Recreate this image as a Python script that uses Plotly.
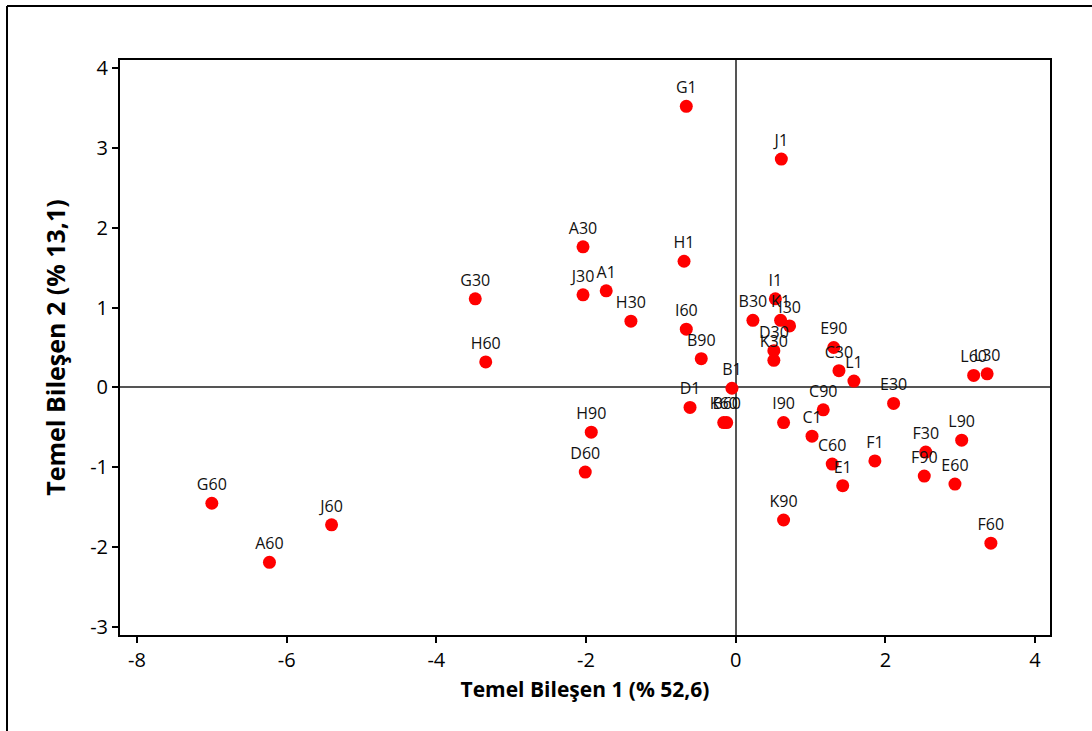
import plotly.graph_objects as go

# Sample labels and principal-component scores
labels = ["G1", "J1", "A30", "H1", "J30", "A1", "G30", "H30", "H60", "I60",
          "B90", "I1", "B30", "K1", "I30", "D30", "K30", "E90", "C30", "L1",
          "B1", "D1", "K60", "B60", "I90", "C90", "C1", "C60", "E1", "F1",
          "K90", "E30", "L60", "L30", "L90", "F30", "F90", "E60", "F60",
          "H90", "D60", "G60", "J60", "A60"]
pc1 = [-0.66, 0.61, -2.04, -0.69, -2.04, -1.73, -3.48, -1.40, -3.34, -0.66,
       -0.46, 0.53, 0.23, 0.60, 0.72, 0.51, 0.51, 1.31, 1.38, 1.58,
       -0.05, -0.61, -0.16, -0.12, 0.64, 1.17, 1.02, 1.29, 1.43, 1.86,
       0.64, 2.11, 3.18, 3.36, 3.02, 2.54, 2.52, 2.93, 3.41,
       -1.93, -2.01, -7.00, -5.40, -6.23]
pc2 = [3.52, 2.86, 1.76, 1.58, 1.16, 1.21, 1.11, 0.83, 0.32, 0.73,
       0.36, 1.11, 0.84, 0.84, 0.77, 0.46, 0.34, 0.50, 0.21, 0.08,
       -0.01, -0.25, -0.44, -0.44, -0.44, -0.28, -0.61, -0.96, -1.23, -0.92,
       -1.66, -0.20, 0.15, 0.17, -0.66, -0.81, -1.11, -1.21, -1.95,
       -0.56, -1.06, -1.45, -1.72, -2.19]

x_ticks = [-8, -6, -4, -2, 0, 2, 4]
y_ticks = [-3, -2, -1, 0, 1, 2, 3, 4]
x_ticktext = [str(v) for v in x_ticks]
y_ticktext = [str(v) for v in y_ticks]

fig = go.Figure()
fig.add_trace(go.Scatter(
    x=pc1, y=pc2, mode="markers+text", text=labels,
    textposition="top center",
    textfont=dict(family="Open Sans", size=16, color="#111111"),
    marker=dict(color="#FF0000", size=13, line=dict(width=0)),
    cliponaxis=False, showlegend=False,
))

axis_common = dict(
    showgrid=False, zeroline=True, zerolinecolor="#555555", zerolinewidth=1.5,
    showline=True, linecolor="black", linewidth=2, mirror=True,
    ticks="outside", ticklen=6, tickwidth=1.5, tickcolor="black",
    tickfont=dict(family="Open Sans", size=20, color="black"),
)

fig.update_xaxes(
    range=[-8.227, 4.2], tickvals=x_ticks, ticktext=x_ticktext,
    title=dict(text="<b>Temel Bileşen 1 (% 52,6)</b>",
               font=dict(family="Open Sans", size=21, color="black"), standoff=10),
    **axis_common,
)
fig.update_yaxes(
    range=[-3.1, 4.1], tickvals=y_ticks, ticktext=y_ticktext,
    title=dict(text="<b>Temel Bileşen 2 (% 13,1)</b>",
               font=dict(family="Open Sans", size=25, color="black"), standoff=17),
    **axis_common,
)

# Outer frame (top and left edges)
fig.add_shape(type="line", xref="paper", yref="paper",
              x0=-0.1215, y0=-0.17, x1=-0.1215, y1=1.0939,
              line=dict(color="black", width=2))
fig.add_shape(type="line", xref="paper", yref="paper",
              x0=-0.1215, y0=1.0939, x1=1.05, y1=1.0939,
              line=dict(color="black", width=2))

fig.update_layout(
    width=1092, height=731,
    margin=dict(l=120, r=42, t=60, b=96),
    paper_bgcolor="white", plot_bgcolor="white",
)

fig.write_html("out.html")
